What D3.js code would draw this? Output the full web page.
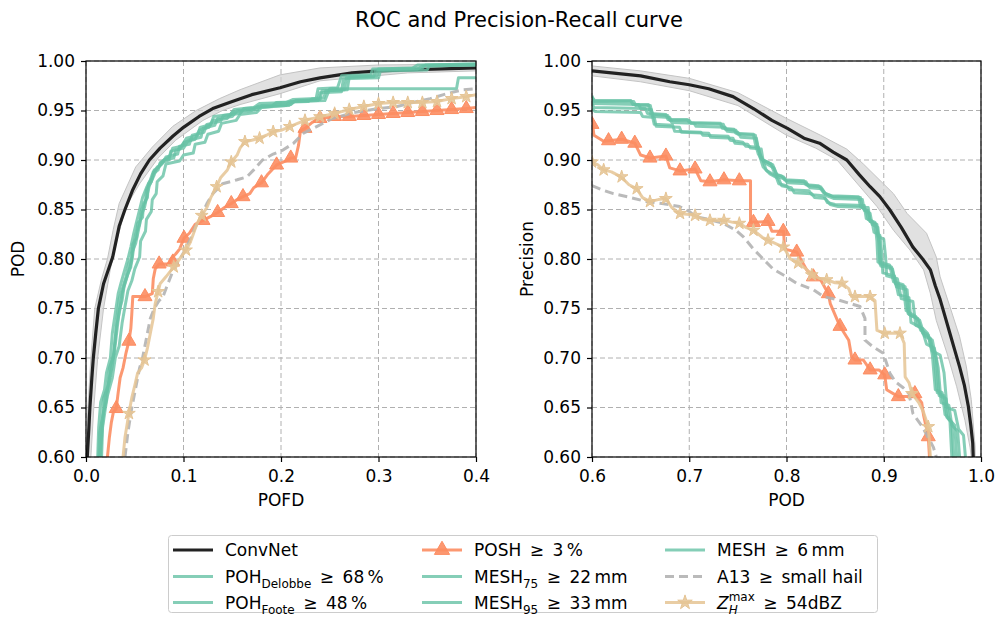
<!DOCTYPE html>
<html>
<head>
<meta charset="utf-8">
<script src="https://cdn.jsdelivr.net/npm/d3@7"></script>
<style>
body { margin: 0; background: #fff; }
svg text { font-family: 'DejaVu Sans', sans-serif; fill: #000; }
</style>
</head>
<body>
<div id="svg"></div>
<script>
// tick values
var rocXTicks = [0.0, 0.1, 0.2, 0.3, 0.4];
var prXTicks = [0.6, 0.7, 0.8, 0.9, 1.0];
var yTicks = [0.60, 0.65, 0.70, 0.75, 0.80, 0.85, 0.90, 0.95, 1.00];

// ---------- ROC (POFD, POD) ----------
var convnetRoc = [[0.0013,0.600],[0.003,0.630],[0.004,0.650],[0.006,0.680],[0.0075,0.700],[0.010,0.725],[0.0127,0.750],[0.018,0.775],[0.0274,0.802],[0.034,0.833],[0.040,0.850],[0.048,0.870],[0.056,0.886],[0.065,0.900],[0.076,0.912],[0.089,0.924],[0.100,0.933],[0.116,0.944],[0.130,0.952],[0.150,0.959],[0.170,0.966],[0.199,0.973],[0.220,0.979],[0.240,0.983],[0.273,0.988],[0.300,0.990],[0.329,0.991],[0.400,0.993]];
var convnetRocBandHi = [[0.000,0.600],[0.002,0.650],[0.005,0.700],[0.009,0.750],[0.016,0.780],[0.022,0.800],[0.028,0.830],[0.034,0.856],[0.051,0.893],[0.068,0.913],[0.089,0.934],[0.113,0.950],[0.137,0.962],[0.158,0.971],[0.199,0.986],[0.240,0.993],[0.300,0.996],[0.400,0.997]];
var convnetRocBandLo = [[0.005,0.600],[0.008,0.650],[0.012,0.700],[0.018,0.750],[0.025,0.790],[0.032,0.820],[0.041,0.853],[0.055,0.876],[0.074,0.902],[0.092,0.920],[0.120,0.940],[0.140,0.950],[0.158,0.956],[0.199,0.967],[0.240,0.980],[0.330,0.988],[0.400,0.990]];
var pohDelobbeRoc = [[0.013,0.600],[0.014,0.625],[0.017,0.640],[0.018,0.660],[0.022,0.668],[0.024,0.690],[0.028,0.700],[0.030,0.720],[0.032,0.742],[0.034,0.760],[0.038,0.772],[0.041,0.782],[0.044,0.796],[0.047,0.800],[0.048,0.815],[0.052,0.822],[0.053,0.836],[0.058,0.842],[0.059,0.856],[0.063,0.862],[0.064,0.876],[0.068,0.882],[0.070,0.890],[0.076,0.894],[0.080,0.900],[0.090,0.902],[0.092,0.910],[0.100,0.912],[0.105,0.920],[0.118,0.923],[0.120,0.932],[0.132,0.935],[0.135,0.942],[0.150,0.944],[0.155,0.950],[0.175,0.951],[0.180,0.955],[0.210,0.956],[0.215,0.960],[0.240,0.961],[0.242,0.970],[0.265,0.971],[0.267,0.983],[0.295,0.984],[0.297,0.991],[0.340,0.992],[0.345,0.995],[0.400,0.996]];
var pohFooteRoc = [[0.016,0.600],[0.017,0.630],[0.020,0.650],[0.022,0.662],[0.027,0.680],[0.030,0.700],[0.034,0.712],[0.037,0.735],[0.040,0.752],[0.043,0.768],[0.047,0.778],[0.050,0.790],[0.055,0.802],[0.056,0.818],[0.061,0.828],[0.062,0.840],[0.067,0.848],[0.068,0.860],[0.072,0.866],[0.073,0.878],[0.079,0.884],[0.082,0.896],[0.096,0.899],[0.100,0.905],[0.110,0.907],[0.112,0.916],[0.122,0.918],[0.125,0.926],[0.136,0.929],[0.139,0.937],[0.154,0.940],[0.158,0.946],[0.175,0.948],[0.180,0.953],[0.205,0.955],[0.210,0.959],[0.238,0.960],[0.240,0.968],[0.262,0.969],[0.264,0.982],[0.300,0.983],[0.302,0.990],[0.350,0.991],[0.352,0.995],[0.400,0.996]];
var mesh75Roc = [[0.012,0.600],[0.013,0.630],[0.015,0.655],[0.019,0.668],[0.021,0.685],[0.025,0.700],[0.027,0.725],[0.030,0.745],[0.033,0.765],[0.036,0.776],[0.040,0.790],[0.043,0.800],[0.046,0.812],[0.049,0.826],[0.052,0.838],[0.055,0.850],[0.058,0.862],[0.062,0.872],[0.066,0.880],[0.069,0.888],[0.074,0.892],[0.077,0.898],[0.086,0.904],[0.089,0.912],[0.098,0.914],[0.103,0.922],[0.115,0.925],[0.117,0.933],[0.128,0.936],[0.131,0.944],[0.148,0.946],[0.152,0.951],[0.172,0.953],[0.178,0.957],[0.205,0.958],[0.212,0.961],[0.236,0.962],[0.238,0.972],[0.258,0.973],[0.262,0.985],[0.292,0.986],[0.294,0.992],[0.335,0.993],[0.340,0.996],[0.400,0.997]];
var mesh95Roc = [[0.014,0.600],[0.016,0.620],[0.018,0.645],[0.021,0.658],[0.023,0.675],[0.027,0.692],[0.029,0.710],[0.031,0.730],[0.035,0.750],[0.037,0.765],[0.040,0.776],[0.044,0.788],[0.047,0.798],[0.049,0.812],[0.051,0.825],[0.055,0.835],[0.057,0.850],[0.061,0.858],[0.062,0.870],[0.067,0.878],[0.069,0.886],[0.074,0.890],[0.076,0.897],[0.085,0.900],[0.087,0.909],[0.096,0.911],[0.101,0.918],[0.112,0.921],[0.116,0.930],[0.126,0.933],[0.130,0.940],[0.145,0.942],[0.150,0.948],[0.170,0.950],[0.176,0.954],[0.208,0.955],[0.213,0.959],[0.245,0.960],[0.250,0.972],[0.380,0.972],[0.382,0.983],[0.400,0.983]];
var mesh6Roc = [[0.015,0.600],[0.016,0.635],[0.019,0.650],[0.020,0.665],[0.024,0.676],[0.026,0.695],[0.029,0.705],[0.032,0.730],[0.034,0.748],[0.037,0.758],[0.039,0.772],[0.043,0.785],[0.046,0.792],[0.047,0.806],[0.051,0.816],[0.054,0.830],[0.057,0.845],[0.060,0.852],[0.063,0.866],[0.065,0.874],[0.070,0.885],[0.073,0.893],[0.078,0.896],[0.082,0.903],[0.094,0.906],[0.096,0.914],[0.106,0.916],[0.109,0.925],[0.121,0.928],[0.124,0.936],[0.138,0.939],[0.141,0.945],[0.158,0.947],[0.162,0.952],[0.190,0.954],[0.195,0.958],[0.228,0.959],[0.232,0.962],[0.244,0.963],[0.246,0.970],[0.268,0.971],[0.270,0.984],[0.298,0.985],[0.300,0.992],[0.345,0.993],[0.348,0.996],[0.400,0.997]];
var poshRoc = [[0.022,0.600],[0.024,0.620],[0.026,0.635],[0.028,0.645],[0.031,0.649],[0.033,0.665],[0.035,0.680],[0.038,0.690],[0.041,0.705],[0.044,0.717],[0.046,0.730],[0.047,0.745],[0.048,0.762],[0.0605,0.762],[0.068,0.765],[0.069,0.780],[0.071,0.790],[0.075,0.795],[0.085,0.795],[0.087,0.800],[0.092,0.805],[0.096,0.810],[0.1005,0.821],[0.106,0.826],[0.112,0.835],[0.120,0.839],[0.128,0.843],[0.135,0.847],[0.142,0.852],[0.149,0.856],[0.155,0.860],[0.161,0.863],[0.168,0.866],[0.172,0.872],[0.180,0.877],[0.186,0.885],[0.1955,0.895],[0.205,0.899],[0.210,0.902],[0.215,0.902],[0.218,0.915],[0.220,0.930],[0.2246,0.932],[0.232,0.938],[0.240,0.942],[0.255,0.944],[0.270,0.944],[0.285,0.945],[0.300,0.946],[0.315,0.947],[0.330,0.948],[0.345,0.949],[0.360,0.950],[0.375,0.951],[0.390,0.952],[0.400,0.953]];
var poshRocMarks = [[0.031,0.649],[0.044,0.717],[0.0605,0.762],[0.075,0.795],[0.089,0.797],[0.1005,0.821],[0.120,0.839],[0.135,0.847],[0.149,0.856],[0.161,0.863],[0.180,0.877],[0.1955,0.895],[0.210,0.902],[0.2246,0.932],[0.240,0.942],[0.255,0.944],[0.270,0.944],[0.285,0.945],[0.300,0.946],[0.315,0.947],[0.330,0.948],[0.345,0.949],[0.360,0.950],[0.375,0.951],[0.390,0.952]];
var a13Roc = [[0.040,0.600],[0.043,0.625],[0.047,0.650],[0.051,0.670],[0.055,0.690],[0.058,0.700],[0.062,0.720],[0.066,0.740],[0.070,0.750],[0.075,0.758],[0.079,0.762],[0.084,0.775],[0.090,0.790],[0.094,0.797],[0.0965,0.800],[0.102,0.810],[0.107,0.820],[0.112,0.832],[0.118,0.843],[0.124,0.856],[0.130,0.866],[0.140,0.876],[0.155,0.880],[0.165,0.883],[0.172,0.890],[0.181,0.900],[0.192,0.906],[0.202,0.910],[0.213,0.917],[0.223,0.927],[0.237,0.934],[0.253,0.942],[0.275,0.948],[0.300,0.952],[0.319,0.954],[0.335,0.958],[0.353,0.962],[0.370,0.967],[0.387,0.971],[0.400,0.972]];
var zhRoc = [[0.038,0.600],[0.040,0.620],[0.044,0.644],[0.047,0.660],[0.050,0.672],[0.053,0.685],[0.057,0.690],[0.060,0.698],[0.063,0.710],[0.066,0.725],[0.069,0.740],[0.071,0.755],[0.074,0.767],[0.076,0.775],[0.082,0.782],[0.090,0.792],[0.096,0.800],[0.1026,0.809],[0.107,0.817],[0.110,0.825],[0.114,0.836],[0.1187,0.844],[0.124,0.852],[0.128,0.862],[0.134,0.873],[0.138,0.882],[0.145,0.890],[0.149,0.898],[0.155,0.905],[0.158,0.912],[0.163,0.9185],[0.170,0.920],[0.178,0.922],[0.185,0.925],[0.192,0.9286],[0.200,0.930],[0.209,0.9337],[0.217,0.937],[0.2246,0.940],[0.240,0.9437],[0.255,0.947],[0.270,0.951],[0.285,0.954],[0.300,0.957],[0.315,0.958],[0.330,0.958],[0.345,0.958],[0.360,0.959],[0.375,0.962],[0.390,0.964],[0.400,0.966]];
var zhRocMarks = [[0.044,0.644],[0.060,0.698],[0.074,0.767],[0.090,0.792],[0.1026,0.809],[0.1187,0.844],[0.134,0.873],[0.149,0.898],[0.163,0.9185],[0.178,0.922],[0.192,0.9286],[0.209,0.9337],[0.2246,0.940],[0.240,0.9437],[0.255,0.947],[0.270,0.951],[0.285,0.954],[0.300,0.957],[0.315,0.958],[0.330,0.958],[0.345,0.958],[0.360,0.959],[0.375,0.962],[0.390,0.964]];

// ---------- Precision-Recall (POD, Precision) ----------
var convnetPr = [[0.600,0.990],[0.620,0.988],[0.650,0.985],[0.680,0.979],[0.700,0.976],[0.720,0.972],[0.745,0.964],[0.766,0.952],[0.785,0.940],[0.801,0.932],[0.818,0.922],[0.834,0.917],[0.848,0.908],[0.862,0.900],[0.875,0.885],[0.886,0.873],[0.896,0.863],[0.906,0.850],[0.918,0.832],[0.930,0.812],[0.940,0.800],[0.948,0.789],[0.953,0.773],[0.958,0.759],[0.963,0.742],[0.968,0.725],[0.973,0.708],[0.978,0.691],[0.983,0.672],[0.987,0.651],[0.9895,0.632],[0.9915,0.614],[0.992,0.600]];
var convnetPrBandHi = [[0.600,0.995],[0.650,0.990],[0.700,0.9825],[0.750,0.968],[0.800,0.942],[0.835,0.925],[0.862,0.911],[0.879,0.896],[0.910,0.866],[0.924,0.846],[0.944,0.826],[0.954,0.802],[0.958,0.782],[0.968,0.752],[0.978,0.7215],[0.985,0.691],[0.990,0.658],[0.994,0.610],[0.994,0.600]];
var convnetPrBandLo = [[0.600,0.985],[0.650,0.979],[0.700,0.970],[0.750,0.955],[0.800,0.925],[0.830,0.912],[0.852,0.900],[0.893,0.853],[0.910,0.829],[0.927,0.809],[0.941,0.789],[0.948,0.765],[0.954,0.738],[0.965,0.705],[0.975,0.671],[0.9835,0.637],[0.9887,0.610],[0.990,0.600]];
var pohDelobbePr = [[0.600,0.965],[0.602,0.959],[0.643,0.959],[0.645,0.955],[0.660,0.955],[0.662,0.946],[0.678,0.945],[0.680,0.940],[0.700,0.940],[0.702,0.937],[0.735,0.936],[0.737,0.931],[0.748,0.930],[0.750,0.926],[0.768,0.925],[0.770,0.915],[0.773,0.905],[0.776,0.900],[0.786,0.895],[0.790,0.885],[0.797,0.883],[0.800,0.879],[0.820,0.878],[0.822,0.874],[0.835,0.873],[0.840,0.866],[0.848,0.863],[0.876,0.862],[0.878,0.852],[0.884,0.848],[0.886,0.838],[0.893,0.835],[0.895,0.815],[0.896,0.795],[0.908,0.792],[0.912,0.775],[0.922,0.772],[0.925,0.745],[0.930,0.742],[0.935,0.740],[0.940,0.725],[0.948,0.720],[0.952,0.700],[0.955,0.665],[0.962,0.662],[0.965,0.640],[0.970,0.635],[0.972,0.600]];
var pohFootePr = [[0.600,0.957],[0.602,0.953],[0.655,0.952],[0.657,0.947],[0.662,0.945],[0.664,0.936],[0.683,0.935],[0.685,0.929],[0.712,0.928],[0.714,0.925],[0.740,0.924],[0.742,0.920],[0.755,0.918],[0.758,0.914],[0.771,0.913],[0.773,0.902],[0.776,0.893],[0.780,0.889],[0.789,0.884],[0.792,0.876],[0.800,0.874],[0.803,0.870],[0.823,0.869],[0.826,0.865],[0.838,0.864],[0.842,0.857],[0.850,0.855],[0.880,0.854],[0.882,0.841],[0.888,0.838],[0.890,0.827],[0.896,0.824],[0.898,0.806],[0.899,0.786],[0.911,0.783],[0.915,0.764],[0.926,0.761],[0.928,0.736],[0.934,0.733],[0.939,0.730],[0.944,0.714],[0.952,0.710],[0.956,0.690],[0.959,0.655],[0.967,0.652],[0.970,0.632],[0.976,0.626],[0.978,0.600]];
var mesh75Pr = [[0.600,0.952],[0.603,0.949],[0.650,0.948],[0.652,0.944],[0.664,0.943],[0.666,0.934],[0.690,0.933],[0.692,0.928],[0.720,0.927],[0.722,0.923],[0.745,0.922],[0.747,0.917],[0.760,0.916],[0.763,0.912],[0.774,0.911],[0.776,0.899],[0.779,0.890],[0.783,0.886],[0.792,0.881],[0.795,0.874],[0.805,0.872],[0.808,0.867],[0.826,0.866],[0.829,0.862],[0.840,0.861],[0.845,0.855],[0.853,0.853],[0.884,0.852],[0.886,0.838],[0.892,0.835],[0.894,0.823],[0.900,0.820],[0.902,0.801],[0.903,0.783],[0.914,0.780],[0.918,0.760],[0.930,0.757],[0.933,0.733],[0.940,0.730],[0.945,0.725],[0.950,0.707],[0.958,0.703],[0.962,0.685],[0.965,0.650],[0.973,0.647],[0.977,0.628],[0.982,0.622],[0.984,0.600]];
var mesh95Pr = [[0.600,0.961],[0.602,0.957],[0.648,0.956],[0.650,0.952],[0.661,0.951],[0.663,0.944],[0.680,0.943],[0.682,0.938],[0.705,0.937],[0.707,0.934],[0.737,0.933],[0.739,0.929],[0.750,0.928],[0.753,0.923],[0.769,0.922],[0.771,0.912],[0.774,0.902],[0.778,0.897],[0.787,0.892],[0.791,0.883],[0.798,0.881],[0.801,0.877],[0.821,0.876],[0.824,0.872],[0.836,0.871],[0.841,0.864],[0.849,0.861],[0.878,0.860],[0.880,0.849],[0.886,0.846],[0.888,0.835],[0.894,0.832],[0.896,0.813],[0.897,0.793],[0.909,0.790],[0.913,0.772],[0.924,0.769],[0.926,0.744],[0.932,0.741],[0.937,0.738],[0.942,0.722],[0.950,0.718],[0.954,0.698],[0.957,0.662],[0.964,0.659],[0.967,0.638],[0.973,0.632],[0.975,0.600]];
var mesh6Pr = [[0.600,0.963],[0.603,0.960],[0.640,0.960],[0.642,0.956],[0.658,0.956],[0.660,0.947],[0.676,0.946],[0.678,0.941],[0.698,0.941],[0.700,0.938],[0.732,0.937],[0.734,0.932],[0.746,0.931],[0.748,0.927],[0.766,0.926],[0.768,0.916],[0.771,0.906],[0.774,0.901],[0.784,0.896],[0.788,0.886],[0.795,0.884],[0.798,0.880],[0.818,0.879],[0.820,0.875],[0.833,0.874],[0.838,0.867],[0.846,0.864],[0.874,0.863],[0.876,0.853],[0.882,0.849],[0.884,0.840],[0.891,0.837],[0.893,0.818],[0.894,0.797],[0.906,0.794],[0.910,0.777],[0.920,0.774],[0.923,0.748],[0.928,0.745],[0.933,0.742],[0.938,0.728],[0.946,0.723],[0.950,0.703],[0.953,0.668],[0.960,0.665],[0.963,0.643],[0.968,0.638],[0.970,0.600]];
var poshPr = [[0.600,0.940],[0.602,0.925],[0.612,0.919],[0.631,0.921],[0.644,0.917],[0.650,0.905],[0.660,0.902],[0.676,0.904],[0.680,0.892],[0.6905,0.889],[0.706,0.891],[0.712,0.879],[0.7213,0.878],[0.7357,0.880],[0.7515,0.879],[0.763,0.879],[0.763,0.837],[0.766,0.837],[0.781,0.838],[0.785,0.828],[0.797,0.828],[0.798,0.810],[0.8105,0.807],[0.8208,0.789],[0.8276,0.782],[0.8345,0.780],[0.843,0.765],[0.845,0.755],[0.855,0.732],[0.864,0.718],[0.867,0.701],[0.8704,0.698],[0.879,0.698],[0.886,0.688],[0.895,0.688],[0.901,0.683],[0.903,0.668],[0.915,0.661],[0.925,0.661],[0.932,0.664],[0.939,0.655],[0.941,0.642],[0.9458,0.6205],[0.947,0.600]];
var poshPrMarks = [[0.600,0.936],[0.617,0.9195],[0.6305,0.921],[0.644,0.917],[0.6596,0.902],[0.676,0.904],[0.6905,0.889],[0.706,0.891],[0.7213,0.878],[0.7357,0.880],[0.7515,0.879],[0.766,0.837],[0.781,0.838],[0.7967,0.828],[0.8105,0.807],[0.8276,0.782],[0.843,0.765],[0.855,0.732],[0.8704,0.698],[0.886,0.688],[0.901,0.683],[0.915,0.661],[0.932,0.664],[0.9458,0.6205]];
var a13Pr = [[0.600,0.874],[0.610,0.870],[0.622,0.866],[0.640,0.862],[0.656,0.858],[0.672,0.856],[0.690,0.853],[0.700,0.848],[0.706,0.843],[0.720,0.840],[0.735,0.836],[0.748,0.829],[0.756,0.822],[0.766,0.810],[0.776,0.800],[0.786,0.790],[0.800,0.782],[0.8105,0.7755],[0.8276,0.769],[0.838,0.762],[0.852,0.759],[0.8756,0.752],[0.8807,0.740],[0.8807,0.718],[0.888,0.712],[0.8995,0.7047],[0.9064,0.6845],[0.912,0.676],[0.920,0.670],[0.926,0.664],[0.930,0.644],[0.940,0.630],[0.951,0.610],[0.954,0.600]];
var zhPr = [[0.600,0.898],[0.606,0.895],[0.612,0.890],[0.620,0.888],[0.626,0.885],[0.631,0.882],[0.638,0.875],[0.646,0.871],[0.652,0.862],[0.660,0.858],[0.668,0.860],[0.676,0.861],[0.682,0.852],[0.690,0.846],[0.700,0.845],[0.706,0.844],[0.714,0.840],[0.7213,0.839],[0.736,0.839],[0.745,0.837],[0.7515,0.836],[0.758,0.832],[0.766,0.829],[0.775,0.822],[0.781,0.819],[0.790,0.815],[0.797,0.812],[0.804,0.800],[0.812,0.796],[0.820,0.790],[0.826,0.784],[0.835,0.780],[0.841,0.779],[0.850,0.776],[0.857,0.7755],[0.864,0.770],[0.867,0.762],[0.886,0.762],[0.891,0.758],[0.893,0.728],[0.901,0.725],[0.9167,0.725],[0.921,0.715],[0.922,0.681],[0.926,0.675],[0.929,0.664],[0.936,0.655],[0.941,0.645],[0.9458,0.6306],[0.948,0.600]];
var zhPrMarks = [[0.600,0.898],[0.612,0.890],[0.6305,0.883],[0.646,0.871],[0.6596,0.858],[0.676,0.861],[0.6905,0.846],[0.706,0.844],[0.7213,0.839],[0.7357,0.839],[0.7515,0.836],[0.766,0.829],[0.781,0.819],[0.7967,0.812],[0.812,0.796],[0.826,0.784],[0.8413,0.779],[0.857,0.7755],[0.8704,0.762],[0.886,0.762],[0.901,0.725],[0.9167,0.725],[0.929,0.664],[0.9458,0.6306]];

// legend labels, in matplotlib column order
var legendLabels = [
    [['ConvNet']],
    [['POH'], ['Delobbe', 'sub'], ['\u2002\u2265\u200268\u2009%']],
    [['POH'], ['Foote', 'sub'], ['\u2002\u2265\u200248\u2009%']],
    [['POSH\u2002\u2265\u20023\u2009%']],
    [['MESH'], ['75', 'sub'], ['\u2002\u2265\u200222\u2009mm']],
    [['MESH'], ['95', 'sub'], ['\u2002\u2265\u200233\u2009mm']],
    [['MESH\u2002\u2265\u20026\u2009mm']],
    [['A13\u2002\u2265\u2002small hail']],
    [['Z', 'it'], ['max', 'sup'], ['H', 'itsub'], ['\u2002\u2265\u200254dBZ']]
];
var legendKinds = ['convnet', 'green', 'green', 'posh', 'green', 'green', 'green', 'a13', 'zh'];

var width = 998;
var height = 622;

var svg = d3.select('#svg')
    .append('svg')
    .attr('width', width + 'px')
    .attr('height', height + 'px');

var styles = {
    convnet: { stroke: '#222222', width: 3.2, opacity: 1 },
    green: { stroke: '#66c2a5', width: 3, opacity: 0.8 },
    posh: { stroke: '#fc8d62', width: 3, opacity: 0.9, marker: d3.symbolTriangle, size: 85 },
    a13: { stroke: '#b3b3b3', width: 3, opacity: 0.9, dash: '9,5' },
    zh: { stroke: '#e5c494', width: 3, opacity: 0.85, marker: d3.symbolStar, size: 50 }
};

var yScale = d3.scaleLinear().domain([0.6, 1.0]).range([457, 61]);

function drawLine(g, x, data, st) {
    var line = d3.line()
        .x(function (d) { return x(d[0]); })
        .y(function (d) { return yScale(d[1]); });
    g.append('path')
        .attr('d', line(data))
        .attr('fill', 'none')
        .attr('stroke', st.stroke)
        .attr('stroke-width', st.width)
        .attr('stroke-opacity', st.opacity)
        .attr('stroke-linejoin', 'round')
        .attr('stroke-dasharray', st.dash || null);
}

function drawMarks(g, x, data, st) {
    g.append('g')
        .selectAll('path')
        .data(data)
        .enter()
        .append('path')
        .attr('d', d3.symbol().type(st.marker).size(st.size))
        .attr('transform', function (d) {
            return 'translate(' + x(d[0]) + ',' + yScale(d[1]) + ')';
        })
        .attr('fill', st.stroke)
        .attr('fill-opacity', st.opacity)
        .attr('stroke', st.stroke)
        .attr('stroke-width', 1);
}

function drawPanel(p) {
    var x = d3.scaleLinear().domain(p.domain).range(p.range);
    var g = svg.append('g');

    // clip to the axes box
    g.append('clipPath').attr('id', p.id)
        .append('rect')
        .attr('x', p.range[0]).attr('y', 61)
        .attr('width', p.range[1] - p.range[0]).attr('height', 396);

    // grid
    var grid = g.append('g')
        .attr('stroke', '#b0b0b0')
        .attr('stroke-width', 1)
        .attr('stroke-dasharray', '5,3');
    grid.selectAll('.vx').data(p.ticks).enter().append('line')
        .attr('x1', function (d) { return x(d); }).attr('x2', function (d) { return x(d); })
        .attr('y1', 61).attr('y2', 457);
    grid.selectAll('.hy').data(yTicks).enter().append('line')
        .attr('x1', p.range[0]).attr('x2', p.range[1])
        .attr('y1', function (d) { return yScale(d); }).attr('y2', function (d) { return yScale(d); });

    var plot = g.append('g').attr('clip-path', 'url(#' + p.id + ')');

    // confidence band of the ConvNet
    var band = p.bandHi.concat(p.bandLo.slice().reverse());
    plot.append('path')
        .attr('d', d3.line()
            .x(function (d) { return x(d[0]); })
            .y(function (d) { return yScale(d[1]); })(band) + 'Z')
        .attr('fill', '#d4d4d4')
        .attr('fill-opacity', 0.7)
        .attr('stroke', '#c4c4c4')
        .attr('stroke-width', 1);

    drawLine(plot, x, p.convnet, styles.convnet);
    p.greens.slice(0, 2).forEach(function (d) { drawLine(plot, x, d, styles.green); });
    drawLine(plot, x, p.posh, styles.posh);
    drawMarks(plot, x, p.poshMarks, styles.posh);
    p.greens.slice(2).forEach(function (d) { drawLine(plot, x, d, styles.green); });
    drawLine(plot, x, p.a13, styles.a13);
    drawLine(plot, x, p.zh, styles.zh);
    drawMarks(plot, x, p.zhMarks, styles.zh);

    // frame
    g.append('rect')
        .attr('x', p.range[0]).attr('y', 61)
        .attr('width', p.range[1] - p.range[0]).attr('height', 396)
        .attr('fill', 'none').attr('stroke', '#000').attr('stroke-width', 1.2);

    var xAxis = d3.axisBottom(x).tickValues(p.ticks).tickFormat(d3.format('.1f'))
        .tickSize(5).tickSizeOuter(0).tickPadding(8);
    var yAxis = d3.axisLeft(yScale).tickValues(yTicks).tickFormat(d3.format('.2f'))
        .tickSize(5).tickSizeOuter(0).tickPadding(6);
    var ax = g.append('g').attr('transform', 'translate(0,457)').call(xAxis);
    var ay = g.append('g').attr('transform', 'translate(' + p.range[0] + ',0)').call(yAxis);
    [ax, ay].forEach(function (a) {
        a.select('.domain').remove();
        a.selectAll('line').attr('stroke', '#000').attr('stroke-width', 1.2);
        a.selectAll('text').attr('font-size', 17).attr('font-family', 'DejaVu Sans, sans-serif');
    });

    g.append('text')
        .attr('x', (p.range[0] + p.range[1]) / 2).attr('y', 506)
        .attr('text-anchor', 'middle').attr('font-size', 17)
        .text(p.xLabel);
    g.append('text')
        .attr('transform', 'translate(' + p.yLabelX + ',259) rotate(-90)')
        .attr('text-anchor', 'middle').attr('font-size', 17)
        .text(p.yLabel);
}

drawPanel({
    id: 'clipRoc', domain: [0, 0.4], range: [86, 476], ticks: rocXTicks,
    xLabel: 'POFD', yLabel: 'POD', yLabelX: 24,
    convnet: convnetRoc, bandHi: convnetRocBandHi, bandLo: convnetRocBandLo,
    greens: [pohDelobbeRoc, pohFooteRoc, mesh75Roc, mesh95Roc, mesh6Roc],
    posh: poshRoc, poshMarks: poshRocMarks, a13: a13Roc, zh: zhRoc, zhMarks: zhRocMarks
});
drawPanel({
    id: 'clipPr', domain: [0.6, 1.0], range: [592, 981], ticks: prXTicks,
    xLabel: 'POD', yLabel: 'Precision', yLabelX: 533,
    convnet: convnetPr, bandHi: convnetPrBandHi, bandLo: convnetPrBandLo,
    greens: [pohDelobbePr, pohFootePr, mesh75Pr, mesh95Pr, mesh6Pr],
    posh: poshPr, poshMarks: poshPrMarks, a13: a13Pr, zh: zhPr, zhMarks: zhPrMarks
});

// title
svg.append('text')
    .attr('x', 519).attr('y', 27)
    .attr('text-anchor', 'middle')
    .attr('font-size', 21)
    .text('ROC and Precision-Recall curve');

// legend
function writeLabel(text, parts) {
    var shift = 0, supW = 0, prevKind = '', prevW = 0;
    parts.forEach(function (p) {
        var kind = p[1] || '';
        var target = (kind === 'sub' || kind === 'itsub') ? 5 : (kind === 'sup' ? -8 : 0);
        var ts = text.append('tspan').text(p[0]).attr('dy', target - shift);
        shift = target;
        if (kind === 'sub' || kind === 'sup' || kind === 'itsub') ts.attr('font-size', 12);
        if (kind === 'it' || kind === 'itsub') ts.attr('font-style', 'italic');
        if (kind === 'itsub') ts.attr('dx', -supW);
        if (kind === '' && prevKind === 'itsub') ts.attr('dx', Math.max(0, supW - prevW));
        var w = ts.node().getComputedTextLength();
        if (kind === 'sup') supW = w;
        prevKind = kind;
        prevW = w;
    });
}

var legend = svg.append('g');
legend.append('rect')
    .attr('x', 168.5).attr('y', 535.5).attr('width', 709).attr('height', 77)
    .attr('rx', 3).attr('fill', '#fff').attr('stroke', '#cccccc').attr('stroke-width', 1);

var colX = [173, 422, 665];
var rowY = [550, 576.5, 602.5];
legendLabels.forEach(function (parts, i) {
    var cx = colX[Math.floor(i / 3)];
    var cy = rowY[i % 3];
    var st = styles[legendKinds[i]];
    legend.append('line')
        .attr('x1', cx).attr('x2', cx + 40).attr('y1', cy).attr('y2', cy)
        .attr('stroke', st.stroke).attr('stroke-width', st.width)
        .attr('stroke-opacity', st.opacity)
        .attr('stroke-dasharray', st.dash || null);
    if (st.marker) {
        legend.append('path')
            .attr('d', d3.symbol().type(st.marker).size(st.size + 15))
            .attr('transform', 'translate(' + (cx + 20) + ',' + cy + ')')
            .attr('fill', st.stroke).attr('fill-opacity', st.opacity)
            .attr('stroke', st.stroke);
    }
    var t = legend.append('text')
        .attr('x', cx + 52).attr('y', cy + 6)
        .attr('font-size', 17);
    writeLabel(t, parts);
});
</script>
</body>
</html>
